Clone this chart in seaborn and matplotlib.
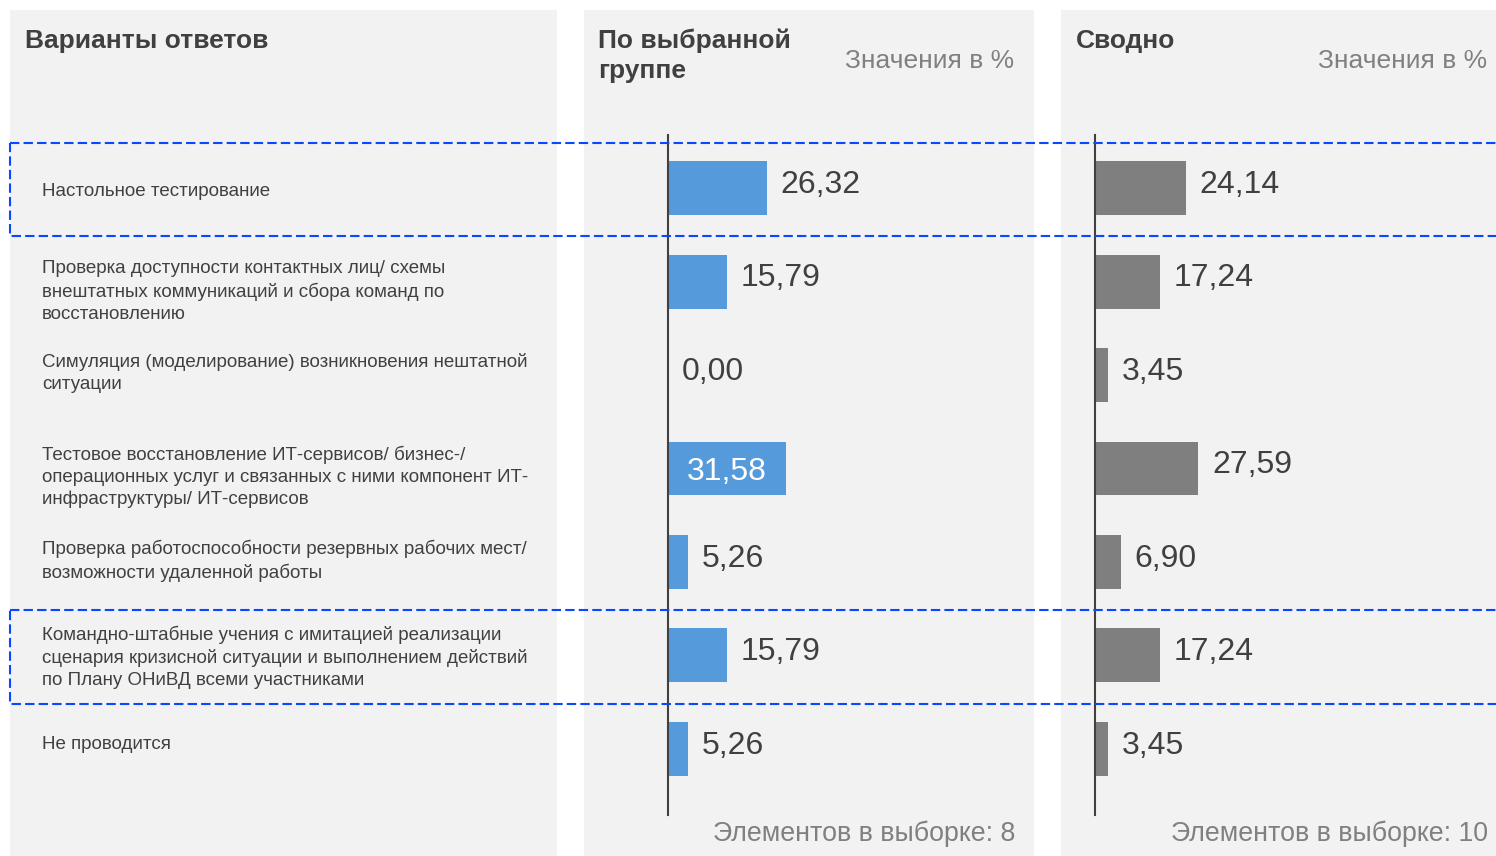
import seaborn as sns
import matplotlib.pyplot as plt
import pandas as pd
from matplotlib.patches import Rectangle
from matplotlib.transforms import blended_transform_factory

# данные
answers = [
    "Настольное тестирование",
    "Проверка доступности контактных лиц/ схемы\nвнештатных коммуникаций и сбора команд по\nвосстановлению",
    "Симуляция (моделирование) возникновения нештатной\nситуации",
    "Тестовое восстановление ИТ-сервисов/ бизнес-/\nоперационных услуг и связанных с ними компонент ИТ-\nинфраструктуры/ ИТ-сервисов",
    "Проверка работоспособности резервных рабочих мест/\nвозможности удаленной работы",
    "Командно-штабные учения с имитацией реализации\nсценария кризисной ситуации и выполнением действий\nпо Плану ОНиВД всеми участниками",
    "Не проводится",
]
group_values = [26.32, 15.79, 0.00, 31.58, 5.26, 15.79, 5.26]
overall_values = [24.14, 17.24, 3.45, 27.59, 6.90, 17.24, 3.45]
group_inside = [False, False, False, True, False, False, False]
overall_inside = [False] * 7
highlighted = [0, 5]

left_title = "Варианты ответов"
group_title = "По выбранной\nгруппе"
overall_title = "Сводно"
units_text = "Значения в %"
group_count = 8
overall_count = 10

# оформление
PANEL = "#F2F2F2"
DARK = "#404040"
GRAY = "#808080"
BLUE = "#559BDC"
BAR_GRAY = "#7F7F7F"
DASH = "#0A48FF"

sns.set_theme(style="white")
plt.rcParams['font.family'] = ['Liberation Sans', 'DejaVu Sans']

df = pd.DataFrame({"answer": answers, "group": group_values, "overall": overall_values})

W, H = 1496, 856
PX_PER_PCT = 3.75
ROW_PX = 93.5
FIRST_ROW_PX = 188
AX_TOP, AX_BOTTOM = 135, 815
label_dy = [3.5, 10, -2, 8.5, -1, 2, -4]  # сдвиг подписей слева, px


def fx(px):
    return px / W


def fy(py):
    return 1 - py / H


def fmt(v):
    return f"{v:.2f}".replace(".", ",")


fig = plt.figure(figsize=(W / 100, H / 100), dpi=100, facecolor="white")

# серые панели
for x0, x1 in [(10, 557), (584, 1034), (1061, 1496)]:
    fig.add_artist(Rectangle((fx(x0), 0), fx(x1) - fx(x0), fy(10), transform=fig.transFigure,
                             facecolor=PANEL, edgecolor="none", zorder=-10))


def bar_panel(x0, x1, col, color, inside):
    ax = fig.add_axes([fx(x0), fy(AX_BOTTOM), fx(x1) - fx(x0), (AX_BOTTOM - AX_TOP) / H])
    ax.set_facecolor("none")
    sns.barplot(data=df, x=col, y="answer", orient="h", color=color, saturation=1,
                width=54 / ROW_PX, linewidth=0, edgecolor="none", ax=ax)
    ax.set_xlim(0, (x1 - x0) / PX_PER_PCT)
    ax.set_ylim((AX_BOTTOM - FIRST_ROW_PX) / ROW_PX, (AX_TOP - FIRST_ROW_PX) / ROW_PX)
    sns.despine(ax=ax, top=True, right=True, bottom=True, left=False)
    ax.spines["left"].set_color(DARK)
    ax.spines["left"].set_linewidth(1.5)
    ax.set_xticks([])
    ax.set_yticks([])
    ax.set_xlabel("")
    ax.set_ylabel("")
    for i, v in enumerate(df[col]):
        if inside[i]:
            ax.annotate(fmt(v), (v / 2, i), xytext=(0, -2.5), textcoords="offset points",
                        ha="center", va="center", color="white", fontsize=23)
        else:
            ax.annotate(fmt(v), (v, i), xytext=(10, 2.5), textcoords="offset points",
                        ha="left", va="center", color=DARK, fontsize=23)
    return ax


ax1 = bar_panel(668, 1034, "group", BLUE, group_inside)
ax2 = bar_panel(1095, 1496, "overall", BAR_GRAY, overall_inside)

# подписи вариантов ответов
for i, (txt, dy) in enumerate(zip(answers, label_dy)):
    ax1.annotate(txt, xy=(fx(42), i), xycoords=("figure fraction", "data"),
                 xytext=(0, -dy * 0.72), textcoords="offset points",
                 ha="left", va="center", fontsize=13.5, color=DARK, linespacing=1.36)

# пунктирные рамки
trans = blended_transform_factory(fig.transFigure, ax1.transData)
for i in highlighted:
    fig.add_artist(Rectangle((fx(10), i - 0.485), fx(1530) - fx(10), 1.0, transform=trans,
                             fill=False, edgecolor=DASH, linewidth=1.5,
                             linestyle=(0, (4.5, 2)), zorder=5))

# заголовки
fig.text(fx(25), fy(48), left_title, fontsize=19, weight="bold", color=DARK, va="baseline")
fig.text(fx(598), fy(78), group_title, fontsize=19, weight="bold", color=DARK, va="baseline",
         linespacing=1.3)
fig.text(fx(1076), fy(48), overall_title, fontsize=19, weight="bold", color=DARK, va="baseline")
fig.text(fx(1014), fy(68), units_text, fontsize=19, color=GRAY, ha="right", va="baseline")
fig.text(fx(1487), fy(68), units_text, fontsize=19, color=GRAY, ha="right", va="baseline")
fig.text(fx(1015), fy(841), f"Элементов в выборке: {group_count}", fontsize=19.3, color=GRAY,
         ha="right", va="baseline")
fig.text(fx(1488), fy(841), f"Элементов в выборке: {overall_count}", fontsize=19.3, color=GRAY,
         ha="right", va="baseline")

fig.savefig("out.png", dpi=100, facecolor="white")
